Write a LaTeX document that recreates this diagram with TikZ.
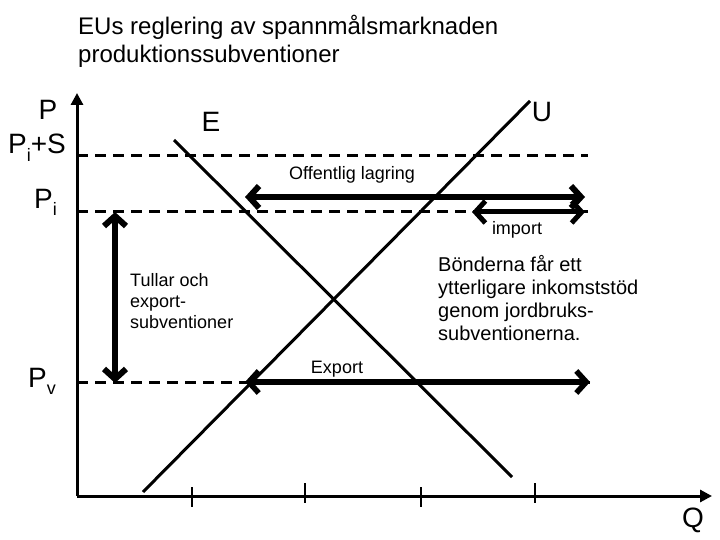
\documentclass[tikz,border=0pt]{standalone}
\usepackage{fontspec}
\setmainfont{Liberation Sans}
\usetikzlibrary{arrows.meta}
\tikzset{
  ax/.style={line width=3pt, -{Triangle[length=12pt,width=12pt]}},
  dsh/.style={line width=3pt, dash pattern=on 11pt off 7pt},
  crv/.style={line width=3pt},
  tick/.style={line width=2.8pt},
  dbl/.style={line width=6pt, {Straight Barb[length=10pt,width=22pt]}-{Straight Barb[length=10pt,width=22pt]}},
  lbl/.style={font=\fontsize{18}{20.7}\selectfont, inner sep=0pt},
  mid/.style={font=\fontsize{20}{23}\selectfont, inner sep=0pt, align=left},
  big/.style={font=\fontsize{28}{32}\selectfont, inner sep=0pt},
  ttl/.style={font=\fontsize{24}{28}\selectfont, inner sep=0pt, align=left},
  sub/.style={},
}
\newcommand{\lowsub}[1]{\raisebox{-0.28em}{\fontsize{18}{20}\selectfont #1}}
\begin{document}
\begin{tikzpicture}[x=1pt,y=-1pt]
\useasboundingbox (0,0) rectangle (720,540);
% title (base anchor = last line)
\node[ttl, anchor=base west] (title) at (78,63) {EUs reglering av spannmålsmarknaden\\produktionssubventioner};
% axes
\coordinate (o) at (77,496);
\coordinate (ytop) at (77,93);
\coordinate (xend) at (712,496);
\draw[ax] (o) -- (ytop);
\draw[ax] (o) -- (xend);
% ticks
\draw[tick] (192,487) -- (192,507);
\draw[tick] (305,483) -- (305,503);
\draw[tick] (421,487) -- (421,507);
\draw[tick] (535,483) -- (535,503);
% dashed price lines
\coordinate (ps0) at (77,156); \coordinate (ps1) at (588,156);
\coordinate (pi0) at (77,212); \coordinate (pi1) at (588,212);
\coordinate (pv0) at (77,382); \coordinate (pv1) at (590,382);
\draw[dsh] (ps0) -- (ps1);
\draw[dsh] (pi0) -- (pi1);
\draw[dsh] (pv0) -- (pv1);
% demand and supply
\coordinate (e0) at (174,140); \coordinate (e1) at (512,477);
\coordinate (u0) at (143,492); \coordinate (u1) at (530,101);
\draw[crv] (e0) -- (e1);
\draw[crv] (u0) -- (u1);
% arrows
\coordinate (la) at (245,197); \coordinate (lb) at (585,197);
\draw[dbl] (la) -- (lb);
\coordinate (ia) at (472,212); \coordinate (ib) at (585,212);
\draw[dbl, line width=5pt] (ia) -- (ib);
\coordinate (va) at (115,212); \coordinate (vb) at (115,383);
\draw[dbl] (va) -- (vb);
\coordinate (xa) at (245,382); \coordinate (xb) at (590,382);
\draw[dbl, line width=5.5pt] (xa) -- (xb);
% labels
\node[lbl] (lagring) at (352,175) {Offentlig lagring};
\node[lbl] (import) at (517,230) {import};
\node[lbl] (export) at (337,369) {Export};
\node[lbl, align=left, anchor=base west] (tullar) at (130,328) {Tullar och\\export-\\subventioner};
\node[mid, anchor=base west] (bonder) at (438,340) {Bönderna får ett\\ytterligare inkomststöd\\genom jordbruks-\\subventionerna.};
\node[big] (E) at (211,122) {E};
\node[big] (U) at (542,112) {U};
\node[big] (Q) at (693,520) {Q};
\node[big] (P) at (48,110) {P};
\node[big, anchor=base east] (Pis) at (66,154) {P\lowsub{i}+S};
\node[big, anchor=base west] (Pi) at (34,208) {P\lowsub{i}};
\node[big, anchor=base west] (Pv) at (28,387) {P\lowsub{v}};
\end{tikzpicture}
\end{document}
